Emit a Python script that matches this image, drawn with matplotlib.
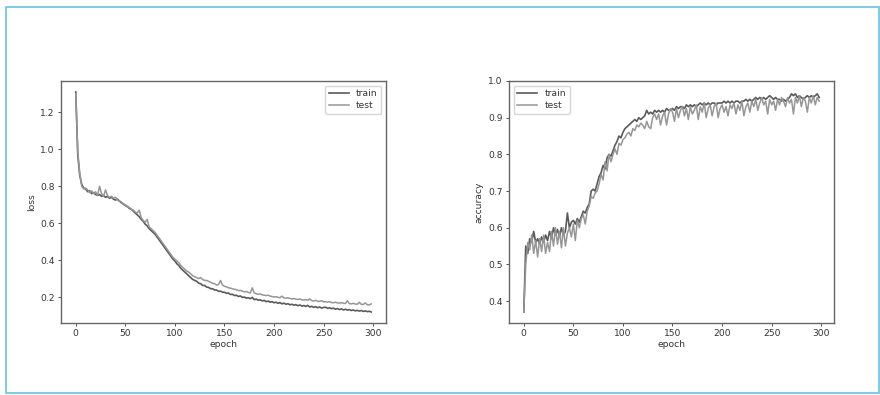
"""Training curves: loss and accuracy over epochs (train vs test)."""

import numpy as np
import matplotlib
matplotlib.use("Agg")
import matplotlib.pyplot as plt
from matplotlib.patches import Rectangle

epochs = np.arange(0, 300, 2)

loss_train = [
    1.31, 0.97, 0.86, 0.81, 0.79, 0.785, 0.77, 0.775, 0.76, 0.765,
    0.755, 0.75, 0.755, 0.745, 0.75, 0.74, 0.745, 0.735, 0.74, 0.73,
    0.725, 0.73, 0.72, 0.71, 0.705, 0.695, 0.69, 0.68, 0.675, 0.665,
    0.655, 0.645, 0.635, 0.62, 0.61, 0.595, 0.585, 0.57, 0.56, 0.55,
    0.54, 0.525, 0.51, 0.495, 0.48, 0.465, 0.45, 0.435, 0.42, 0.405,
    0.395, 0.38, 0.37, 0.355, 0.345, 0.335, 0.325, 0.315, 0.305, 0.295,
    0.29, 0.285, 0.275, 0.272, 0.263, 0.262, 0.254, 0.252, 0.245, 0.245,
    0.238, 0.238, 0.231, 0.232, 0.226, 0.226, 0.22, 0.222, 0.214, 0.215,
    0.208, 0.21, 0.203, 0.206, 0.198, 0.2, 0.194, 0.196, 0.191, 0.198,
    0.186, 0.189, 0.183, 0.185, 0.179, 0.182, 0.175, 0.178, 0.172, 0.175,
    0.169, 0.172, 0.166, 0.17, 0.163, 0.167, 0.161, 0.164, 0.158, 0.161,
    0.156, 0.159, 0.153, 0.157, 0.151, 0.154, 0.149, 0.155, 0.146, 0.15,
    0.144, 0.148, 0.142, 0.146, 0.14, 0.144, 0.145, 0.139, 0.142, 0.137,
    0.14, 0.134, 0.138, 0.132, 0.136, 0.13, 0.134, 0.129, 0.132, 0.127,
    0.13, 0.125, 0.128, 0.124, 0.127, 0.122, 0.125, 0.121, 0.123, 0.119,
]

loss_test = [
    1.30, 0.99, 0.87, 0.80, 0.785, 0.79, 0.78, 0.765, 0.775, 0.76,
    0.77, 0.75, 0.80, 0.76, 0.745, 0.78, 0.75, 0.74, 0.745, 0.735,
    0.74, 0.725, 0.72, 0.715, 0.70, 0.70, 0.69, 0.685, 0.675, 0.67,
    0.66, 0.655, 0.67, 0.63, 0.615, 0.605, 0.62, 0.58, 0.57, 0.56,
    0.55, 0.535, 0.52, 0.505, 0.49, 0.475, 0.46, 0.445, 0.43, 0.415,
    0.405, 0.395, 0.385, 0.37, 0.36, 0.35, 0.34, 0.335, 0.325, 0.315,
    0.31, 0.305, 0.30, 0.305, 0.295, 0.29, 0.29, 0.285, 0.28, 0.275,
    0.272, 0.265, 0.268, 0.29, 0.265, 0.258, 0.255, 0.25, 0.248, 0.245,
    0.242, 0.24, 0.235, 0.236, 0.232, 0.228, 0.23, 0.225, 0.222, 0.25,
    0.222, 0.218, 0.215, 0.217, 0.212, 0.21, 0.208, 0.21, 0.205, 0.203,
    0.20, 0.202, 0.198, 0.197, 0.205, 0.195, 0.194, 0.196, 0.192, 0.19,
    0.192, 0.188, 0.187, 0.19, 0.185, 0.184, 0.186, 0.182, 0.19, 0.18,
    0.179, 0.182, 0.177, 0.176, 0.18, 0.174, 0.175, 0.172, 0.175, 0.17,
    0.169, 0.172, 0.168, 0.167, 0.17, 0.166, 0.165, 0.18, 0.164, 0.163,
    0.166, 0.162, 0.161, 0.172, 0.16, 0.16, 0.168, 0.158, 0.157, 0.163,
]

acc_train = [
    0.37, 0.55, 0.53, 0.57, 0.56, 0.59, 0.56, 0.57, 0.555, 0.575,
    0.56, 0.58, 0.565, 0.59, 0.57, 0.60, 0.58, 0.595, 0.575, 0.60,
    0.58, 0.59, 0.64, 0.60, 0.615, 0.62, 0.61, 0.625, 0.615, 0.63,
    0.645, 0.64, 0.655, 0.665, 0.70, 0.705, 0.70, 0.72, 0.74, 0.75,
    0.77, 0.76, 0.79, 0.80, 0.795, 0.81, 0.825, 0.835, 0.85, 0.845,
    0.86, 0.87, 0.875, 0.88, 0.885, 0.89, 0.895, 0.89, 0.90, 0.895,
    0.90, 0.905, 0.92, 0.91, 0.915, 0.91, 0.92, 0.915, 0.92, 0.915,
    0.92, 0.915, 0.925, 0.92, 0.92, 0.925, 0.92, 0.93, 0.925, 0.93,
    0.93, 0.925, 0.935, 0.93, 0.935, 0.93, 0.935, 0.93, 0.935, 0.94,
    0.935, 0.94, 0.935, 0.94, 0.935, 0.94, 0.94, 0.935, 0.94, 0.94,
    0.94, 0.945, 0.94, 0.945, 0.94, 0.945, 0.94, 0.945, 0.945, 0.94,
    0.945, 0.945, 0.95, 0.945, 0.95, 0.945, 0.95, 0.955, 0.95, 0.955,
    0.95, 0.955, 0.95, 0.955, 0.96, 0.955, 0.95, 0.955, 0.95, 0.95,
    0.945, 0.95, 0.945, 0.95, 0.955, 0.965, 0.96, 0.965, 0.955, 0.96,
    0.955, 0.95, 0.955, 0.96, 0.955, 0.96, 0.955, 0.96, 0.965, 0.955,
]

acc_test = [
    0.37, 0.50, 0.56, 0.54, 0.58, 0.53, 0.565, 0.52, 0.57, 0.535,
    0.58, 0.53, 0.56, 0.535, 0.59, 0.55, 0.60, 0.555, 0.59, 0.545,
    0.60, 0.55, 0.585, 0.60, 0.575, 0.61, 0.565, 0.62, 0.60, 0.625,
    0.635, 0.61, 0.645, 0.66, 0.685, 0.68, 0.695, 0.70, 0.72, 0.745,
    0.73, 0.78, 0.755, 0.80, 0.78, 0.80, 0.815, 0.80, 0.83, 0.825,
    0.84, 0.845, 0.855, 0.86, 0.85, 0.87, 0.865, 0.88, 0.875, 0.885,
    0.88, 0.87, 0.89, 0.875, 0.87, 0.90, 0.91, 0.895, 0.91, 0.88,
    0.905, 0.915, 0.88, 0.91, 0.925, 0.915, 0.89, 0.925, 0.90, 0.92,
    0.93, 0.905, 0.925, 0.895, 0.93, 0.91, 0.92, 0.935, 0.895, 0.93,
    0.915, 0.94, 0.90, 0.925, 0.935, 0.905, 0.93, 0.94, 0.90, 0.925,
    0.935, 0.915, 0.93, 0.905, 0.935, 0.925, 0.94, 0.91, 0.935, 0.92,
    0.945, 0.905, 0.93, 0.94, 0.915, 0.945, 0.93, 0.95, 0.92, 0.94,
    0.955, 0.935, 0.945, 0.91, 0.95, 0.935, 0.945, 0.92, 0.95, 0.935,
    0.955, 0.945, 0.93, 0.955, 0.94, 0.95, 0.91, 0.955, 0.94, 0.96,
    0.93, 0.955, 0.945, 0.915, 0.955, 0.94, 0.96, 0.935, 0.955, 0.945,
]

TRAIN_COLOR = "#5a5a5a"
TEST_COLOR = "#969696"
TEXT_COLOR = "#333333"
FS = 6.6

plt.rcParams["font.family"] = "DejaVu Sans"
plt.rcParams["font.size"] = FS

fig = plt.figure(figsize=(8.8, 3.95), dpi=100)
fig.patch.set_facecolor("white")

# light blue frame around the whole picture
fig.patches.append(Rectangle((6 / 880, 2 / 395), 873 / 880, 386 / 395,
                             transform=fig.transFigure, fill=False,
                             edgecolor="#76c6de", linewidth=1.3))

ax_loss = fig.add_axes([61 / 880, 72 / 395, 325 / 880, 242 / 395])
ax_acc = fig.add_axes([509 / 880, 72 / 395, 325 / 880, 242 / 395])


def style_axes(ax):
    for sp in ax.spines.values():
        sp.set_color("#666666")
        sp.set_linewidth(1.0)
    ax.tick_params(colors=TEXT_COLOR, labelsize=FS, length=2.5, width=0.6,
                   pad=2)
    ax.xaxis.label.set_color(TEXT_COLOR)
    ax.yaxis.label.set_color(TEXT_COLOR)


ax_loss.plot(epochs, loss_train, color=TRAIN_COLOR, lw=1.2, label="train")
ax_loss.plot(epochs, loss_test, color=TEST_COLOR, lw=1.1, label="test")
ax_loss.set_xlabel("epoch", fontsize=FS, labelpad=1)
ax_loss.set_ylabel("loss", fontsize=FS, labelpad=3)
ax_loss.set_xticks([0, 50, 100, 150, 200, 250, 300])
ax_loss.set_yticks([0.2, 0.4, 0.6, 0.8, 1.0, 1.2])
style_axes(ax_loss)
leg = ax_loss.legend(loc="upper right", fontsize=FS, handlelength=2.2,
                     borderpad=0.4, labelspacing=0.35)

ax_acc.plot(epochs, acc_train, color=TRAIN_COLOR, lw=1.2, label="train")
ax_acc.plot(epochs, acc_test, color=TEST_COLOR, lw=1.1, label="test")
ax_acc.set_xlabel("epoch", fontsize=FS, labelpad=1)
ax_acc.set_ylabel("accuracy", fontsize=FS, labelpad=3)
ax_acc.set_xticks([0, 50, 100, 150, 200, 250, 300])
ax_acc.set_ylim(top=1.0)
style_axes(ax_acc)
leg2 = ax_acc.legend(loc="upper left", fontsize=FS, handlelength=2.2,
                     borderpad=0.4, labelspacing=0.35)

for lg in (leg, leg2):
    for t in lg.get_texts():
        t.set_color(TEXT_COLOR)

fig.savefig("out.png", dpi=100)
